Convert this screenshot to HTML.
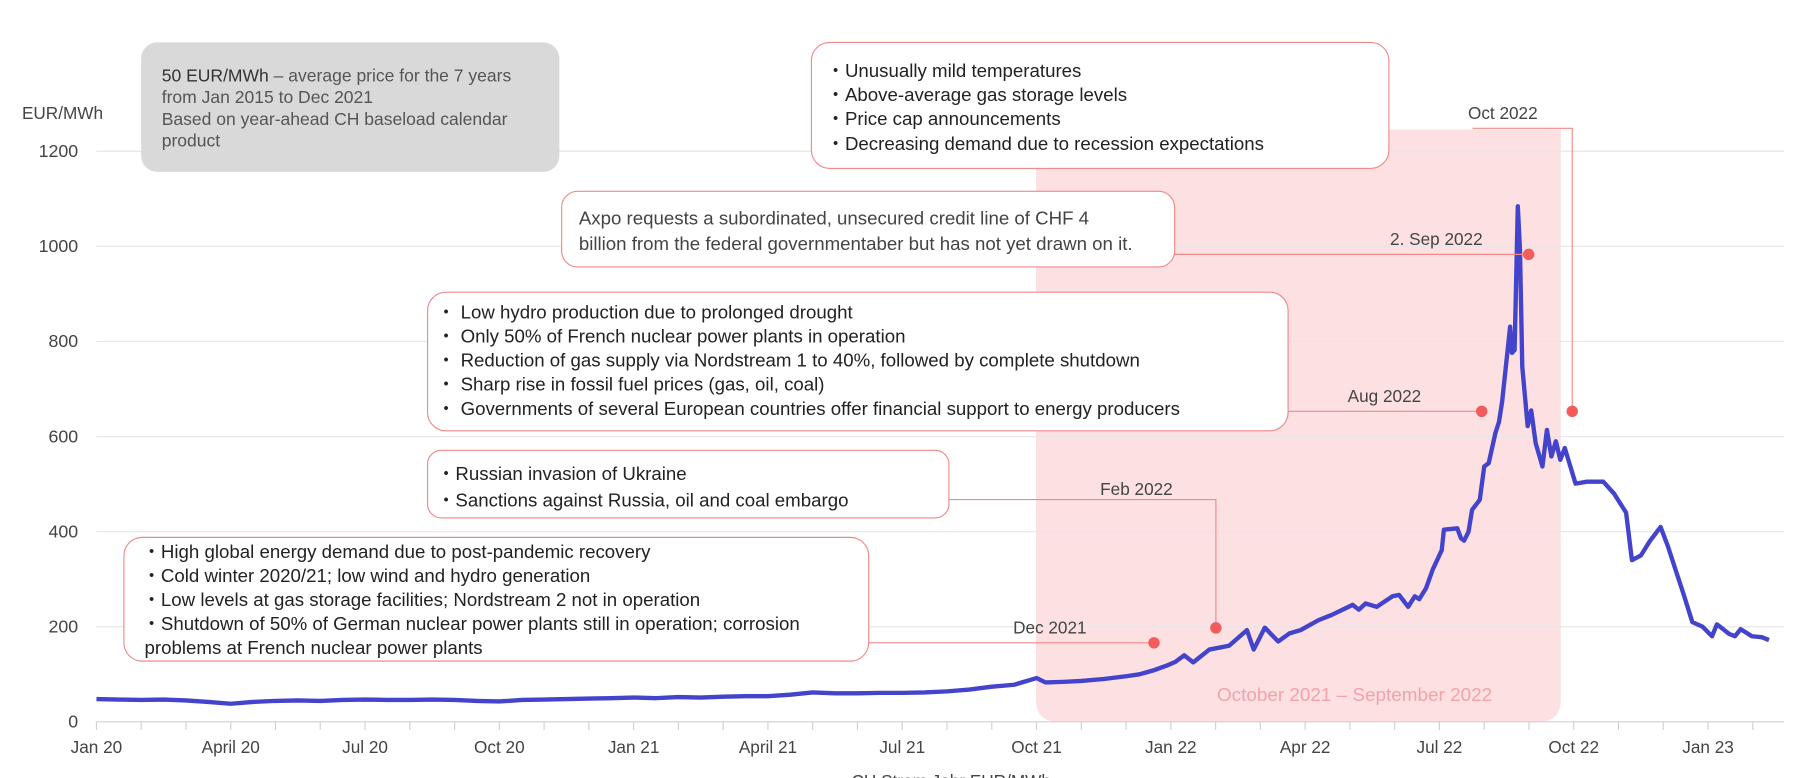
<!DOCTYPE html>
<html><head><meta charset="utf-8"><style>
html,body{margin:0;padding:0;background:#fff;overflow:hidden}
svg{display:block;font-family:"Liberation Sans",sans-serif}
</style></head><body>
<svg id="chart" width="1797" height="778" viewBox="0 0 1568 679" xmlns="http://www.w3.org/2000/svg">
<rect x="0" y="0" width="1568" height="679" fill="#fff"/>
<path d="M904 113 H1362 V610 Q1362 630 1342 630 H924 Q904 630 904 610 Z" fill="#fde0e2"/>
<g id="grid"></g>
<g id="yticks"></g>
<g id="xticks"></g>
<text x="19" y="104" font-size="15" fill="#444">EUR/MWh</text>
<text x="1182" y="612" font-size="16.5" fill="#f3a2aa" text-anchor="middle">October 2021 – September 2022</text>
<path id="line" fill="none" stroke="#4343cc" stroke-width="3.8" stroke-linejoin="round"/>

<g>
<rect x="123" y="37" width="365" height="113" rx="14" fill="#d9d9d9"/>
<text x="141" y="71" font-size="15.3" fill="#555"><tspan fill="#333">50 EUR/MWh</tspan> – average price for the 7 years</text>
<text x="141" y="90" font-size="15.3" fill="#555">from Jan 2015 to Dec 2021</text>
<text x="141" y="109" font-size="15.3" fill="#555">Based on year-ahead CH baseload calendar</text>
<text x="141" y="128" font-size="15.3" fill="#555">product</text>
</g>

<g font-size="16.3" fill="#222">
<path d="M1285 112 H1372 V359" fill="none" stroke="#f08a8a" stroke-width="1"/>
<circle cx="1372" cy="359" r="5" fill="#f25c5c"/>
<text x="1281" y="104" font-size="15" fill="#444">Oct 2022</text>
<rect x="708" y="37" width="504" height="110" rx="16" fill="#fff" stroke="#f08a8a"/>
<text x="721" y="67">・Unusually mild temperatures</text>
<text x="721" y="88">・Above-average gas storage levels</text>
<text x="721" y="109">・Price cap announcements</text>
<text x="721" y="131">・Decreasing demand due to recession expectations</text>
</g>

<g font-size="16.3" fill="#444">
<path d="M1025 222 H1334" fill="none" stroke="#f08a8a" stroke-width="1"/>
<circle cx="1334" cy="222" r="5" fill="#f25c5c"/>
<text x="1213" y="214" font-size="15">2. Sep 2022</text>
<rect x="490" y="167" width="535" height="66" rx="14" fill="#fff" stroke="#f08a8a"/>
<text x="505" y="196">Axpo requests a subordinated, unsecured credit line of CHF 4</text>
<text x="505" y="218">billion from the federal governmentaber but has not yet drawn on it.</text>
</g>

<g font-size="16.3" fill="#222">
<path d="M1124 359 H1293" fill="none" stroke="#f08a8a" stroke-width="1"/>
<circle cx="1293" cy="359" r="5" fill="#f25c5c"/>
<text x="1176" y="351" font-size="15" fill="#444">Aug 2022</text>
<rect x="373" y="255" width="751" height="121" rx="16" fill="#fff" stroke="#f08a8a"/>
<text x="381" y="278">・ Low hydro production due to prolonged drought</text>
<text x="381" y="299">・ Only 50% of French nuclear power plants in operation</text>
<text x="381" y="320">・ Reduction of gas supply via Nordstream 1 to 40%, followed by complete shutdown</text>
<text x="381" y="341">・ Sharp rise in fossil fuel prices (gas, oil, coal)</text>
<text x="381" y="362">・ Governments of several European countries offer financial support to energy producers</text>
</g>

<g font-size="16.3" fill="#222">
<path d="M828 436 H1061 V548" fill="none" stroke="#f08a8a" stroke-width="1"/>
<circle cx="1061" cy="548" r="5" fill="#f25c5c"/>
<text x="960" y="432" font-size="15" fill="#444">Feb 2022</text>
<rect x="373" y="393" width="455" height="59" rx="12" fill="#fff" stroke="#f08a8a"/>
<text x="381" y="419">・Russian invasion of Ukraine</text>
<text x="381" y="442">・Sanctions against Russia, oil and coal embargo</text>
</g>

<g font-size="16.3" fill="#222">
<path d="M758 561 H1007" fill="none" stroke="#f08a8a" stroke-width="1"/>
<circle cx="1007" cy="561" r="5" fill="#f25c5c"/>
<text x="884" y="553" font-size="15" fill="#444">Dec 2021</text>
<rect x="108" y="469" width="650" height="108" rx="16" fill="#fff" stroke="#f08a8a"/>
<text x="124" y="487">・High global energy demand due to post-pandemic recovery</text>
<text x="124" y="508">・Cold winter 2020/21; low wind and hydro generation</text>
<text x="124" y="529">・Low levels at gas storage facilities; Nordstream 2 not in operation</text>
<text x="124" y="550">・Shutdown of 50% of German nuclear power plants still in operation; corrosion</text>
<text x="126" y="571">problems at French nuclear power plants</text>
</g>
<text x="830" y="687" font-size="15" fill="#444" text-anchor="middle">CH Strom Jahr EUR/MWh</text>
</svg>
<script>
const yTicks = [0, 200, 400, 600, 800, 1000, 1200];
const xTickLabels = ["Jan 20","April 20","Jul 20","Oct 20","Jan 21","April 21","Jul 21","Oct 21","Jan 22","Apr 22","Jul 22","Oct 22","Jan 23"];
const xTickMonths = [0,3,6,9,12,15,18,21,24,27,30,33,36];
// months since Jan 2020
const monthIdx = [0,0.5,1,1.5,2,2.5,3,3.5,4,4.5,5,5.5,6,6.5,7,7.5,8,8.5,9,9.5,10,10.5,11,11.5,
12,12.5,13,13.5,14,14.5,15,15.5,16,16.5,17,17.5,18,18.5,19,19.5,20,20.5,21,21.2,21.6,22,22.5,23,23.3,23.6,23.9,24.1,24.3,24.5,24.86,25.3,25.7,25.85,26.1,26.4,26.65,26.9,27.3,27.6,28.06,28.2,28.35,28.6,28.95,29.1,29.3,29.45,29.55,29.7,29.85,30.05,30.1,30.4,30.48,30.55,30.65,30.73,30.9,31,31.1,31.25,31.33,31.4,31.58,31.62,31.68,31.75,31.8,31.85,31.97,32.05,32.15,32.3,32.4,32.5,32.6,32.7,32.8,33.04,33.3,33.66,33.9,34.17,34.3,34.5,34.7,34.94,35.1,35.24,35.45,35.65,35.88,36.09,36.2,36.47,36.6,36.73,36.98,37.2,37.36,37.67];
const prices = [48,47,46,47,45,42,38,42,44,45,44,46,47,46,46,47,46,44,43,46,47,48,49,50,
51,50,52,51,53,54,54,57,62,60,60,61,61,62,64,68,74,78,92,83,84,86,90,96,100,108,118,126,140,125,152,160,193,152,198,169,186,193,214,225,246,236,249,242,264,267,242,264,258,281,320,361,404,407,386,381,400,446,467,537,544,607,631,673,831,776,782,1084,993,747,622,655,586,537,614,558,590,551,576,501,505,505,480,440,340,350,380,410,370,330,270,210,200,180,205,185,180,195,180,178,172];
const X = m => 84 + m * 39.07;
const Y = v => 630 - v * 0.415;
const NS = "http://www.w3.org/2000/svg";
const grid = document.getElementById('grid'), yt = document.getElementById('yticks'), xt = document.getElementById('xticks');
yTicks.forEach(v => {
  const l = document.createElementNS(NS, 'line');
  
  
  l.setAttribute('x1', 84); l.setAttribute('x2', 1557);
  l.setAttribute('y1', Y(v)); l.setAttribute('y2', Y(v));
  l.setAttribute('stroke', v === 0 ? '#d0d0d0' : '#e6e6e6'); l.setAttribute('stroke-width', 1);
  grid.appendChild(l);
  const t = document.createElementNS(NS, 'text');
  
  
  t.setAttribute('x', 68); t.setAttribute('y', Y(v) + 5);
  t.setAttribute('text-anchor', 'end'); t.setAttribute('font-size', 15.5); t.setAttribute('fill', '#444');
  t.textContent = v; yt.appendChild(t);
});
for (let m = 0; m <= 37; m++) {
  const l = document.createElementNS(NS, 'line');
  
  
  l.setAttribute('x1', X(m)); l.setAttribute('x2', X(m));
  l.setAttribute('y1', 630); l.setAttribute('y2', 637);
  l.setAttribute('stroke', '#d0d0d0');
  xt.appendChild(l);
}
xTickLabels.forEach((lab, i) => {
  const t = document.createElementNS(NS, 'text');
  
  
  t.setAttribute('x', X(xTickMonths[i])); t.setAttribute('y', 657);
  t.setAttribute('text-anchor', 'middle'); t.setAttribute('font-size', 15); t.setAttribute('fill', '#444');
  t.textContent = lab; xt.appendChild(t);
});
document.getElementById('line').setAttribute('d', monthIdx.map((m, i) => (i ? 'L' : 'M') + X(m).toFixed(1) + ' ' + Y(prices[i]).toFixed(1)).join(' '));
</script>
</body></html>
